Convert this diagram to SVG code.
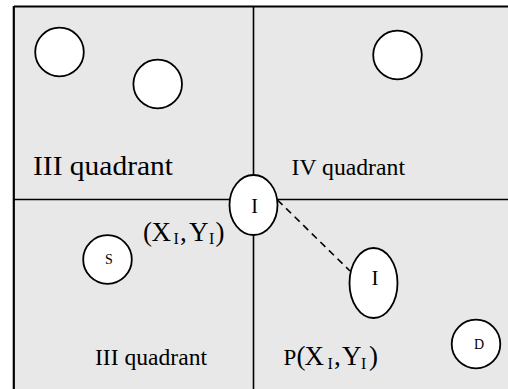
<svg xmlns="http://www.w3.org/2000/svg" width="508" height="389" viewBox="0 0 508 389">
<style>
.ln{stroke:#000;stroke-width:1.6;fill:none}
.nd{fill:#fff;stroke:#000;stroke-width:1.8}
.t{font-family:"Liberation Serif","Times New Roman",serif;fill:#000}
</style>
<rect x="0" y="0" width="508" height="389" fill="#fff"/>
<rect x="14" y="7" width="494" height="382" fill="#e8e8e8"/>
<g id="frame">
<line class="ln" x1="14" y1="6.5" x2="508" y2="6.5" style="stroke-width:2.2"/>
<line class="ln" x1="13.8" y1="6" x2="13.8" y2="389" style="stroke-width:2.2"/>
</g>
<g id="connectors">
<line class="ln" x1="253.5" y1="7" x2="253.5" y2="176"/>
<line class="ln" x1="253.5" y1="221" x2="253.5" y2="389"/>
<line class="ln" x1="14" y1="199.5" x2="230" y2="199.5"/>
<line class="ln" x1="277" y1="199.5" x2="508" y2="199.5"/>
<line class="ln" x1="277.5" y1="200" x2="350" y2="271" stroke-dasharray="7,5"/>
</g>
<g id="n1"><circle class="nd" cx="59.5" cy="52" r="24.3"/></g>
<g id="n2"><circle class="nd" cx="157.7" cy="84" r="24.3"/></g>
<g id="n3"><circle class="nd" cx="397.5" cy="55" r="24.3"/></g>
<g id="nI1"><ellipse class="nd" cx="253.5" cy="205" rx="24" ry="30"/><text class="t" x="254.5" y="212.5" font-size="20" text-anchor="middle">I</text></g>
<g id="nI2"><ellipse class="nd" cx="373.5" cy="283" rx="24" ry="35"/><text class="t" x="375" y="285" font-size="21" text-anchor="middle">I</text></g>
<g id="nS"><circle class="nd" cx="107.5" cy="259.5" r="24.3"/><text class="t" x="109" y="263.5" font-size="14" text-anchor="middle">S</text></g>
<g id="nD"><circle class="nd" cx="476" cy="344" r="24.3"/><text class="t" x="479" y="349" font-size="14" text-anchor="middle">D</text></g>
<g id="labels">
<text class="t" x="33" y="175" font-size="28" textLength="140" lengthAdjust="spacingAndGlyphs">III quadrant</text>
<text class="t" x="291.5" y="175" font-size="22.5" textLength="113.5" lengthAdjust="spacingAndGlyphs">IV quadrant</text>
<text class="t" x="95" y="365" font-size="22.5" textLength="112" lengthAdjust="spacingAndGlyphs">III quadrant</text>
<text class="t" y="240.7" font-size="27"><tspan x="143">(</tspan><tspan x="151.5">X</tspan><tspan x="173.5" y="244" font-size="16">I</tspan><tspan x="180" y="240.7">,</tspan><tspan x="189">Y</tspan><tspan x="209" y="244" font-size="16">I</tspan><tspan x="215.5" y="240.7">)</tspan></text>
<text class="t" y="365" font-size="27"><tspan x="283.5" font-size="23">P</tspan><tspan x="296.5">(</tspan><tspan x="304.5">X</tspan><tspan x="327.5" y="368.5" font-size="16">I</tspan><tspan x="334" y="365">,</tspan><tspan x="342">Y</tspan><tspan x="361" y="368.5" font-size="16">I</tspan><tspan x="369" y="365">)</tspan></text>
</g>
</svg>
